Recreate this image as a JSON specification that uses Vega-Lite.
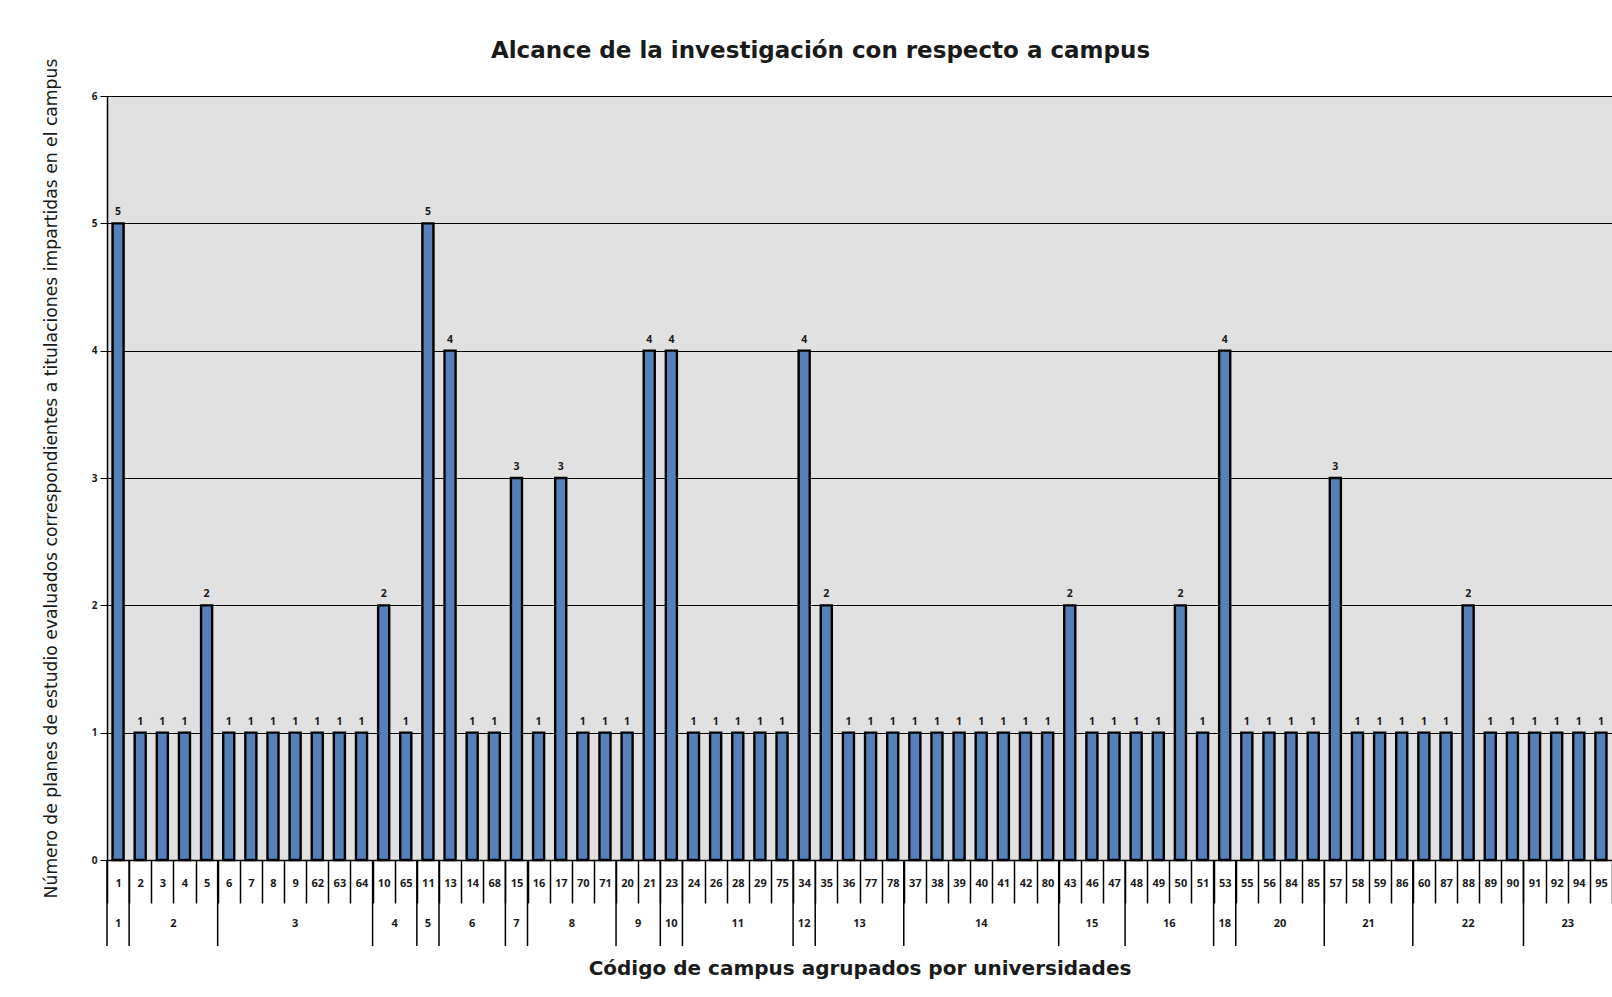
{
  "$schema": "https://vega.github.io/schema/vega-lite/v6.json",
  "autosize": {"type": "none"},
  "width": 1505,
  "height": 764,
  "padding": {"left": 107, "top": 96, "right": 0, "bottom": 137},
  "background": "white",
  "title": {
    "text": "Alcance de la investigación con respecto a campus",
    "font": "DejaVu Sans",
    "fontSize": 23,
    "fontWeight": "bold",
    "color": "#1a1a1a",
    "anchor": "middle",
    "dx": -39,
    "baseline": "alphabetic",
    "offset": -23
  },
  "config": {
    "view": {"fill": "#e1e1e1", "stroke": null},
    "font": "Open Sans"
  },
  "data": {
    "values": [
      {"campus": "1", "uni": "1", "n": 5},
      {"campus": "2", "uni": "2", "n": 1},
      {"campus": "3", "uni": "2", "n": 1},
      {"campus": "4", "uni": "2", "n": 1},
      {"campus": "5", "uni": "2", "n": 2},
      {"campus": "6", "uni": "3", "n": 1},
      {"campus": "7", "uni": "3", "n": 1},
      {"campus": "8", "uni": "3", "n": 1},
      {"campus": "9", "uni": "3", "n": 1},
      {"campus": "62", "uni": "3", "n": 1},
      {"campus": "63", "uni": "3", "n": 1},
      {"campus": "64", "uni": "3", "n": 1},
      {"campus": "10", "uni": "4", "n": 2},
      {"campus": "65", "uni": "4", "n": 1},
      {"campus": "11", "uni": "5", "n": 5},
      {"campus": "13", "uni": "6", "n": 4},
      {"campus": "14", "uni": "6", "n": 1},
      {"campus": "68", "uni": "6", "n": 1},
      {"campus": "15", "uni": "7", "n": 3},
      {"campus": "16", "uni": "8", "n": 1},
      {"campus": "17", "uni": "8", "n": 3},
      {"campus": "70", "uni": "8", "n": 1},
      {"campus": "71", "uni": "8", "n": 1},
      {"campus": "20", "uni": "9", "n": 1},
      {"campus": "21", "uni": "9", "n": 4},
      {"campus": "23", "uni": "10", "n": 4},
      {"campus": "24", "uni": "11", "n": 1},
      {"campus": "26", "uni": "11", "n": 1},
      {"campus": "28", "uni": "11", "n": 1},
      {"campus": "29", "uni": "11", "n": 1},
      {"campus": "75", "uni": "11", "n": 1},
      {"campus": "34", "uni": "12", "n": 4},
      {"campus": "35", "uni": "13", "n": 2},
      {"campus": "36", "uni": "13", "n": 1},
      {"campus": "77", "uni": "13", "n": 1},
      {"campus": "78", "uni": "13", "n": 1},
      {"campus": "37", "uni": "14", "n": 1},
      {"campus": "38", "uni": "14", "n": 1},
      {"campus": "39", "uni": "14", "n": 1},
      {"campus": "40", "uni": "14", "n": 1},
      {"campus": "41", "uni": "14", "n": 1},
      {"campus": "42", "uni": "14", "n": 1},
      {"campus": "80", "uni": "14", "n": 1},
      {"campus": "43", "uni": "15", "n": 2},
      {"campus": "46", "uni": "15", "n": 1},
      {"campus": "47", "uni": "15", "n": 1},
      {"campus": "48", "uni": "16", "n": 1},
      {"campus": "49", "uni": "16", "n": 1},
      {"campus": "50", "uni": "16", "n": 2},
      {"campus": "51", "uni": "16", "n": 1},
      {"campus": "53", "uni": "18", "n": 4},
      {"campus": "55", "uni": "20", "n": 1},
      {"campus": "56", "uni": "20", "n": 1},
      {"campus": "84", "uni": "20", "n": 1},
      {"campus": "85", "uni": "20", "n": 1},
      {"campus": "57", "uni": "21", "n": 3},
      {"campus": "58", "uni": "21", "n": 1},
      {"campus": "59", "uni": "21", "n": 1},
      {"campus": "86", "uni": "21", "n": 1},
      {"campus": "60", "uni": "22", "n": 1},
      {"campus": "87", "uni": "22", "n": 1},
      {"campus": "88", "uni": "22", "n": 2},
      {"campus": "89", "uni": "22", "n": 1},
      {"campus": "90", "uni": "22", "n": 1},
      {"campus": "91", "uni": "23", "n": 1},
      {"campus": "92", "uni": "23", "n": 1},
      {"campus": "94", "uni": "23", "n": 1},
      {"campus": "95", "uni": "23", "n": 1}
    ]
  },
  "encoding": {
    "x": {
      "field": "campus",
      "type": "nominal",
      "sort": null,
      "scale": {"paddingInner": 0, "paddingOuter": 0},
      "axis": {
        "title": "Código de campus agrupados por universidades",
        "titleFont": "DejaVu Sans",
        "titleFontSize": 20,
        "titleFontWeight": "bold",
        "titleColor": "#1a1a1a",
        "titlePadding": 55,
        "labelAngle": 0,
        "labelFont": "Open Sans",
        "labelFontSize": 11,
        "labelFontWeight": "bold",
        "labelColor": "#1a1a1a",
        "labelBaseline": "middle",
        "labelPadding": -20,
        "labelOverlap": false,
        "labelBound": false,
        "ticks": true,
        "tickBand": "extent",
        "tickSize": 43,
        "tickColor": "black",
        "tickWidth": 1.5,
        "domain": true,
        "domainColor": "black",
        "domainWidth": 1.5,
        "grid": false
      }
    }
  },
  "layer": [
    {
      "mark": {"type": "bar", "fill": "#5580ba", "stroke": "black", "strokeWidth": 2.4, "width": {"band": 0.5}},
      "encoding": {
        "y": {
          "field": "n",
          "type": "quantitative",
          "scale": {"domain": [0, 6], "nice": false},
          "axis": {
            "title": "Número de planes de estudio evaluados correspondientes a titulaciones impartidas en el campus",
            "titleFont": "DejaVu Sans",
            "titleFontSize": 17.2,
            "titleFontWeight": "normal",
            "titleColor": "#1a1a1a",
            "titlePadding": 31,
            "values": [0, 1, 2, 3, 4, 5, 6],
            "format": "d",
            "labelFont": "Open Sans",
            "labelFontSize": 10,
            "labelFontWeight": "bold",
            "labelColor": "#1a1a1a",
            "labelPadding": 3,
            "tickSize": 7,
            "tickColor": "black",
            "domainColor": "black",
            "domainWidth": 1.5,
            "grid": true,
            "gridColor": "black",
            "gridWidth": 1.2,
            "gridOpacity": 1
          }
        }
      }
    },
    {
      "mark": {"type": "text", "font": "Open Sans", "fontSize": 10.5, "fontWeight": "bold", "color": "#1a1a1a", "baseline": "bottom", "dy": -6},
      "encoding": {
        "y": {"field": "n", "type": "quantitative"},
        "text": {"field": "n", "type": "quantitative"}
      }
    },
    {
      "transform": [
        {"window": [{"op": "row_number", "as": "rn"}], "groupby": ["uni"]},
        {"filter": "datum.rn == 1"}
      ],
      "mark": {"type": "rule", "color": "black", "strokeWidth": 1.5},
      "encoding": {
        "x": {"field": "campus", "type": "nominal", "sort": null, "bandPosition": 0},
        "y": {"datum": 0},
        "y2": {"datum": -0.676}
      }
    },
    {
      "transform": [
        {"joinaggregate": [{"op": "count", "as": "cnt"}], "groupby": ["uni"]},
        {"window": [{"op": "row_number", "as": "rn"}], "groupby": ["uni"]},
        {"filter": "datum.cnt % 2 == 1 && datum.rn == (datum.cnt + 1) / 2"}
      ],
      "mark": {"type": "text", "font": "Open Sans", "fontSize": 11, "fontWeight": "bold", "color": "#1a1a1a", "baseline": "middle"},
      "encoding": {
        "x": {"field": "campus", "type": "nominal", "sort": null, "bandPosition": 0.5},
        "y": {"datum": -0.5},
        "text": {"field": "uni"}
      }
    },
    {
      "transform": [
        {"joinaggregate": [{"op": "count", "as": "cnt"}], "groupby": ["uni"]},
        {"window": [{"op": "row_number", "as": "rn"}], "groupby": ["uni"]},
        {"filter": "datum.cnt % 2 == 0 && datum.rn == datum.cnt / 2 + 1"}
      ],
      "mark": {"type": "text", "font": "Open Sans", "fontSize": 11, "fontWeight": "bold", "color": "#1a1a1a", "baseline": "middle"},
      "encoding": {
        "x": {"field": "campus", "type": "nominal", "sort": null, "bandPosition": 0},
        "y": {"datum": -0.5},
        "text": {"field": "uni"}
      }
    }
  ]
}
